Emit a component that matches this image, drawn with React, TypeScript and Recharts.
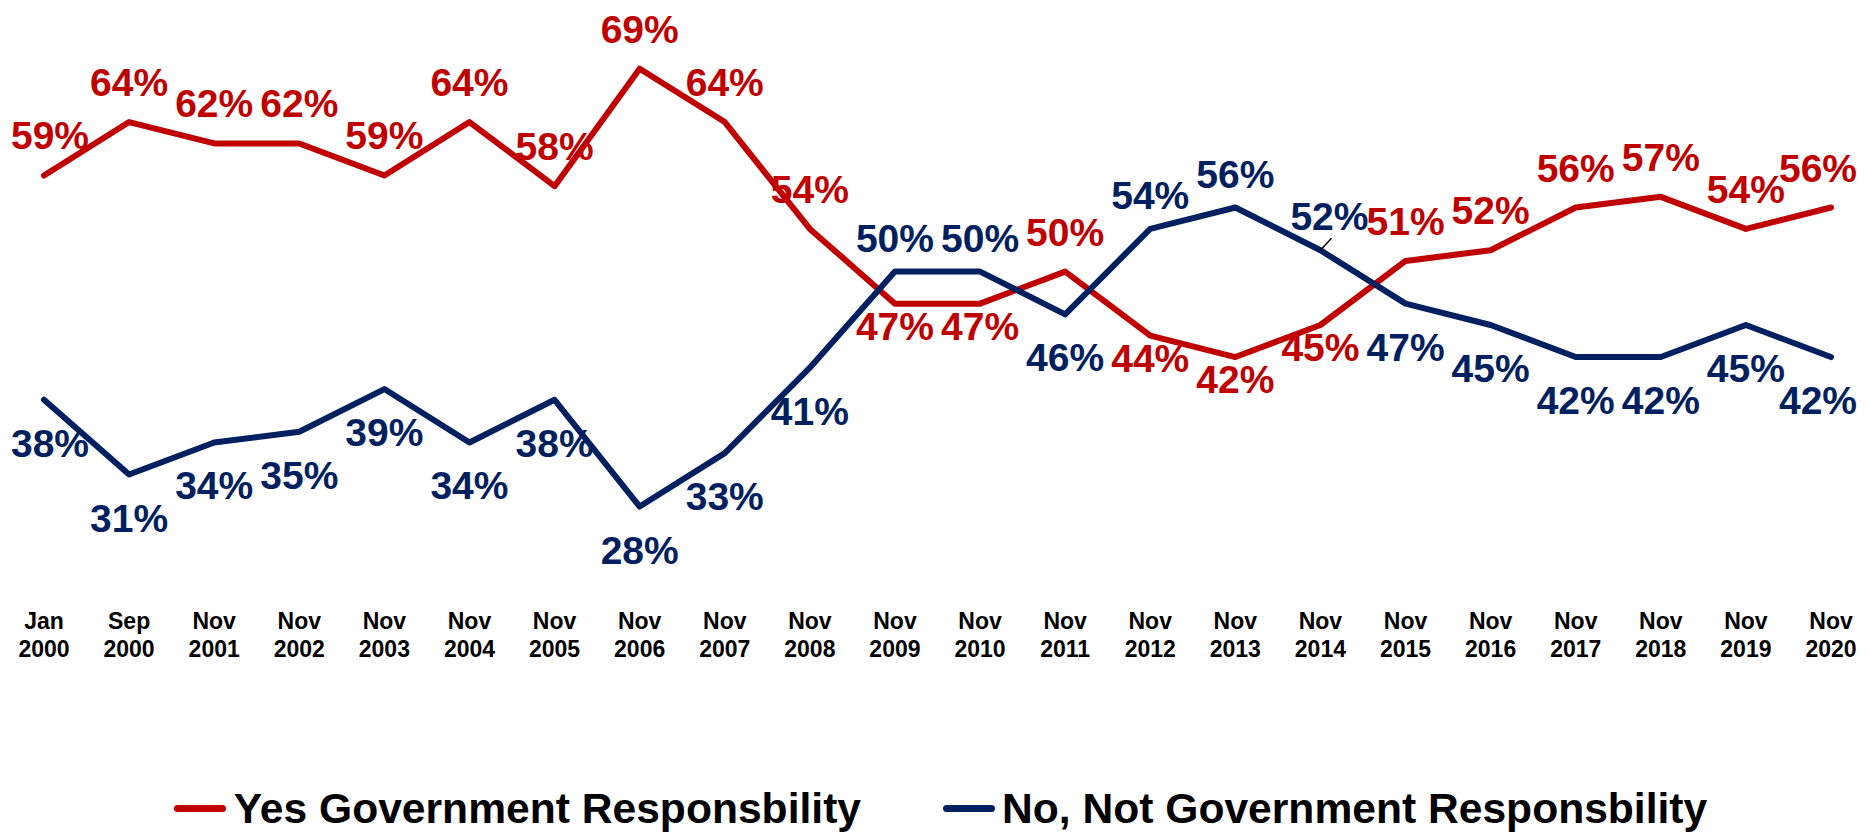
import React from 'react';
import { LineChart, Line, XAxis, YAxis, LabelList, Legend } from 'recharts';

const categories = [
  'Jan 2000', 'Sep 2000', 'Nov 2001', 'Nov 2002', 'Nov 2003', 'Nov 2004', 'Nov 2005',
  'Nov 2006', 'Nov 2007', 'Nov 2008', 'Nov 2009', 'Nov 2010', 'Nov 2011', 'Nov 2012',
  'Nov 2013', 'Nov 2014', 'Nov 2015', 'Nov 2016', 'Nov 2017', 'Nov 2018', 'Nov 2019', 'Nov 2020',
];
const yesValues = [59, 64, 62, 62, 59, 64, 58, 69, 64, 54, 47, 47, 50, 44, 42, 45, 51, 52, 56, 57, 54, 56];
const noValues = [38, 31, 34, 35, 39, 34, 38, 28, 33, 41, 50, 50, 46, 54, 56, 52, 47, 45, 42, 42, 45, 42];

const data = categories.map((c, i) => ({ period: c, yes: yesValues[i], no: noValues[i] }));

const RED = '#C00000';
const BLUE = '#002060';
const FONT = '"Liberation Sans", Arial, sans-serif';
const W = 1852;
const H = 827;

// label of the 'no' series that sits off to the side with a leader line
const leaderCategory = 'Nov 2014';

const makeLabel = (own: number[], other: number[], color: string, isYes: boolean) => (props: any) => {
  const { x, y, index, value } = props;
  const higher = own[index] > other[index];
  const dy = higher ? (isYes ? -26 : -20) : (isYes ? 36 : 57);
  let lx = Math.min(Math.max(x, 42), W - 42);
  const leader = !isYes && categories[index] === leaderCategory;
  if (leader) lx += 9;
  return (
    <g>
      {leader && <line x1={x} y1={y} x2={x + 11} y2={y - 12} stroke="#000" strokeWidth={1.5} />}
      <text x={lx} y={y + dy} textAnchor="middle" fill={color}
        style={{ fontFamily: FONT, fontWeight: 'bold', fontSize: 39 }}>
        {value}%
      </text>
    </g>
  );
};

const PeriodTick = (props: any) => {
  const { x, y, payload } = props;
  const [m, yr] = String(payload.value).split(' ');
  return (
    <text x={x} y={y} textAnchor="middle" fill="#000"
      style={{ fontFamily: FONT, fontWeight: 'bold', fontSize: 23 }}>
      <tspan x={x} dy={37}>{m}</tspan>
      <tspan x={x} dy={28}>{yr}</tspan>
    </text>
  );
};

const LegendItem = ({ color, label, gap }: { color: string; label: string; gap: number }) => (
  <div style={{ display: 'flex', alignItems: 'center' }}>
    <span style={{ display: 'inline-block', width: 52, height: 7, borderRadius: 4, background: color, marginRight: gap }} />
    <span>{label}</span>
  </div>
);

const renderLegend = () => (
  <div style={{
    display: 'flex', justifyContent: 'center', alignItems: 'center', height: 42,
    fontFamily: FONT, fontWeight: 'bold', fontSize: 42.6, lineHeight: '42px', color: '#000', paddingLeft: 13,
  }}>
    <LegendItem color={RED} label="Yes Government Responsbility" gap={8} />
    <div style={{ width: 82 }} />
    <LegendItem color={BLUE} label="No, Not Government Responsbility" gap={7} />
  </div>
);

export default function App() {
  return (
    <LineChart width={W} height={H} data={data} margin={{ top: 50, right: 29, bottom: 0, left: 36 }}>
      <XAxis dataKey="period" axisLine={false} tickLine={false} tickSize={0} tickMargin={0}
        interval={0} height={201} padding={{ left: 0, right: 0 }} tick={<PeriodTick />} />
      <YAxis hide domain={[20, 70]} />
      <Legend verticalAlign="bottom" height={42} content={renderLegend}
        wrapperStyle={{ top: 779, left: 0, width: W }} />
      <Line type="linear" dataKey="yes" stroke={RED} strokeWidth={6} dot={false}
        strokeLinecap="round" strokeLinejoin="round" isAnimationActive={false}>
        <LabelList dataKey="yes" content={makeLabel(yesValues, noValues, RED, true)} />
      </Line>
      <Line type="linear" dataKey="no" stroke={BLUE} strokeWidth={6} dot={false}
        strokeLinecap="round" strokeLinejoin="round" isAnimationActive={false}>
        <LabelList dataKey="no" content={makeLabel(noValues, yesValues, BLUE, false)} />
      </Line>
    </LineChart>
  );
}
